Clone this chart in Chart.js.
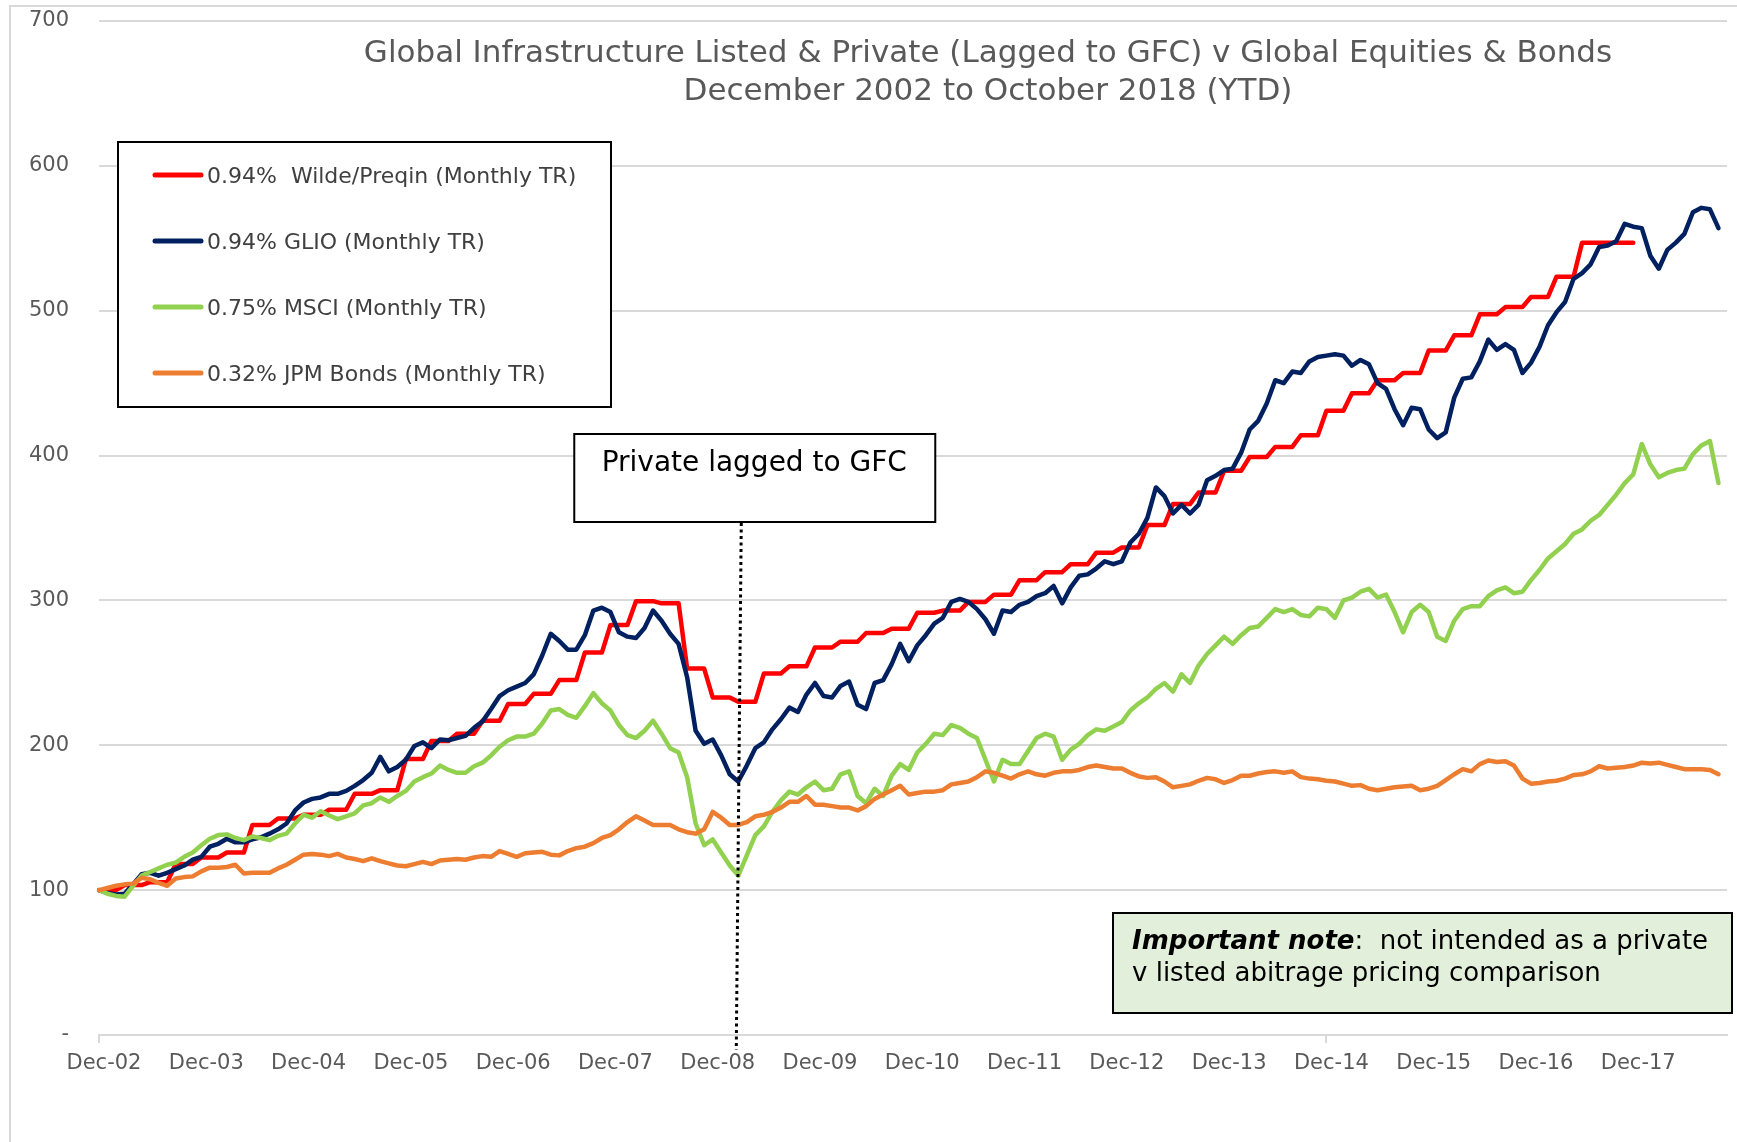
<!DOCTYPE html>
<html>
<head>
<meta charset="utf-8">
<title>Global Infrastructure Listed & Private v Global Equities & Bonds</title>
<script src="https://cdn.jsdelivr.net/npm/chart.js@4.4.0/dist/chart.umd.min.js"></script>
<style>
  html, body { margin: 0; padding: 0; background: #fff; }
  #wrap { position: relative; width: 1737px; height: 1142px; }
</style>
</head>
<body>
<div id="wrap"><canvas id="myChart" width="1737" height="1142"></canvas></div>
<script>
// tick labels shown under the x axis (one per December)
const tickLabels = ['Dec-02','Dec-03','Dec-04','Dec-05','Dec-06','Dec-07','Dec-08','Dec-09',
                    'Dec-10','Dec-11','Dec-12','Dec-13','Dec-14','Dec-15','Dec-16','Dec-17']
const monthNames = ['Jan','Feb','Mar','Apr','May','Jun','Jul','Aug','Sep','Oct','Nov','Dec']

// monthly categories Dec-02 .. Nov-18 (last one is the empty end of the axis)
const months = []
for (let i = 0; i < 192; i++) {
  const m = (11 + i) % 12
  const yr = 2 + Math.floor((11 + i) / 12)
  months.push(monthNames[m] + '-' + (yr < 10 ? '0' + yr : '' + yr))
}

const seriesNames = ['0.94%  Wilde/Preqin (Monthly TR)', '0.94% GLIO (Monthly TR)',
                     '0.75% MSCI (Monthly TR)', '0.32% JPM Bonds (Monthly TR)']
const seriesColors = ['#ff0000', '#002060', '#92d050', '#ed7d31']

// Wilde/Preqin private infrastructure (quarterly, held for 3 months)
const wilde = [
  100, 100, 100,   103.5, 103.5, 103.5,   105.5, 105.5, 105.5,   118, 118, 118,
  122.5, 122.5, 122.5,   126, 126, 126,   145, 145, 145,   149.5, 149.5, 149.5,
  152, 152, 152,   155.5, 155.5, 155.5,   166.5, 166.5, 166.5,   169, 169, 169,
  190.5, 190.5, 190.5,   203, 203, 203,   208, 208, 208,   217, 217, 217,
  228.5, 228.5, 228.5,   235.5, 235.5, 235.5,   245, 245, 245,   264, 264, 264,
  283, 283, 283,   299.5, 299.5, 299.5,   298, 298, 298,   253, 253, 253,
  233, 233, 233,   230, 230, 230,   249.5, 249.5, 249.5,   254.5, 254.5, 254.5,
  267.5, 267.5, 267.5,   271.5, 271.5, 271.5,   277.5, 277.5, 277.5,   280.5, 280.5, 280.5,
  291.5, 291.5, 291.5,   293, 293, 293,   299, 299, 299,   304, 304, 304,
  314, 314, 314,   319.5, 319.5, 319.5,   325, 325, 325,   333, 333, 333,
  336.5, 336.5, 336.5,   352, 352, 352,   366.5, 366.5, 366.5,   374.5, 374.5, 374.5,
  389.5, 389.5, 389.5,   399, 399, 399,   406, 406, 406,   414, 414, 414,
  431, 431, 431,   443, 443, 443,   452, 452, 452,   457, 457, 457,
  472.5, 472.5, 472.5,   483, 483, 483,   497.5, 497.5, 497.5,   502.5, 502.5, 502.5,
  509.5, 509.5, 509.5,   523.5, 523.5, 523.5,   547, 547, 547,   547, 547, 547,
  547
]

// GLIO listed infrastructure
const glio = [
  100, 98, 97, 97.5, 104, 111, 112, 110, 112, 114.5, 117, 121,
  123, 130, 132, 135.5, 133, 133, 135, 136.5, 139, 142, 146, 155,
  160.5, 163, 164, 166.5, 166.5, 168.5, 172, 176, 181, 192, 182, 185,
  190, 199.5, 202, 198, 204, 203.5, 205, 206.5, 212, 216.5, 225, 234,
  238, 240.5, 243, 249, 262, 277, 272, 266, 266, 276, 293, 295,
  292, 278, 275, 274, 281, 293, 286, 277, 270, 247, 210, 201,
  204, 193, 180, 175, 186, 198, 202, 211, 218, 226, 223, 235,
  243, 234, 233, 241, 244, 228, 225, 243, 245, 256, 270, 258,
  269, 276, 284, 288, 299, 301, 299, 294, 287, 277, 293, 292,
  297, 299, 303, 305, 310, 298, 309, 317, 318, 322, 327, 325,
  327, 340, 346, 357, 378, 372, 360, 366, 360, 366, 383, 386,
  390, 391, 402, 418, 424, 436, 452, 450, 458, 457, 465, 468,
  469, 470, 469, 462, 466, 463, 450, 446, 432, 421, 433, 432,
  418, 412, 416, 440, 453, 454, 465, 480, 473, 477, 473, 457,
  464, 475, 490, 499, 506, 522, 526, 532, 544, 545, 548, 560,
  558, 557, 538, 529, 542, 547, 553, 568, 571, 570, 557
]

// MSCI global equities
const msci = [
  100, 97.5, 96, 95.5, 103, 110, 112.5, 115, 117.5, 119, 123, 126,
  131, 135.5, 138, 138.5, 136, 134.5, 137, 136, 134.5, 137.5, 139, 146,
  152, 150, 154.5, 151.5, 149, 151, 153, 158.5, 160, 164, 161, 165,
  168.5, 175, 178, 180.5, 186, 183, 181, 181, 185.5, 188, 193, 199,
  203.5, 206, 206, 208, 215, 224, 225, 221, 219, 227, 236, 229,
  224, 214, 207, 205, 210, 217, 208, 198, 195, 178, 146, 131,
  135, 126, 117, 110, 124, 138, 144, 154, 162, 168, 166, 171,
  175, 169, 170, 180, 182, 165, 160, 170, 165, 179, 187, 183,
  195, 201, 208, 207, 214, 212, 208, 205, 190, 175, 190, 187,
  187, 196, 205, 208, 206, 190, 197, 201, 207, 211, 210, 213,
  216, 224, 229, 233, 239, 243, 237, 249, 243, 255, 263, 269,
  275, 270, 276, 281, 282, 288, 294, 292, 294, 290, 289, 295,
  294, 288, 300, 302, 306, 308, 302, 304, 292, 278, 292, 297,
  292, 275, 272, 286, 294, 296, 296, 303, 307, 309, 305, 306,
  314, 321, 329, 334, 339, 346, 349, 355, 359, 366, 373, 381,
  387, 408, 394, 385, 388, 390, 391, 401, 407, 410, 381
]

// JPM global bonds
const jpm = [
  100, 101.5, 103, 104, 104.5, 108.5, 107.5, 105, 103, 108, 109, 109.5,
  113, 115.5, 115.5, 116, 117.5, 111.5, 112, 112, 112, 115, 117.5, 121,
  124.5, 125, 124.5, 123.5, 125, 122.5, 121.5, 120, 122, 120, 118.5, 117,
  116.5, 118, 119.5, 118, 120.5, 121, 121.5, 121, 122.5, 123.5, 123, 127,
  125, 123, 125.5, 126, 126.5, 124.5, 124, 127, 129, 130, 132.5, 136,
  138, 142, 147, 151, 148, 145, 145, 145, 142, 140, 139, 142,
  154, 150, 145, 145, 147, 151, 152, 154, 157, 161, 161, 165,
  159, 159, 158, 157, 157, 155, 158, 163, 166, 169, 172, 166,
  167, 168, 168, 169, 173, 174, 175, 178, 182, 181, 179, 177,
  180, 182, 180, 179, 181, 182, 182, 183, 185, 186, 185, 184,
  184, 181, 178.5, 177.5, 178, 175, 171, 172, 173, 175.5, 177.5, 176.5,
  174, 176, 179, 179, 180.5, 181.5, 182, 181, 182, 178, 177, 176.5,
  175.5, 175, 173.5, 172, 172.5, 170, 169, 170, 171, 171.5, 172, 169,
  170, 172, 176, 180, 183.5, 182, 187, 189.5, 188.5, 189, 186, 177,
  173.5, 174, 175, 175.5, 177, 179.5, 180, 182, 185.5, 184, 184.5, 185,
  186, 188, 187.5, 188, 186.5, 185, 183.5, 183.5, 183.5, 183, 180
]

const titleLines = ['Global Infrastructure Listed & Private (Lagged to GFC) v Global Equities & Bonds',
                    'December 2002 to October 2018 (YTD)']
const gfcLabel = 'Private lagged to GFC'
const gfcMonth = 75   // Mar-09
const noteBold = 'Important note'
const noteLines = [':  not intended as a private', 'v listed abitrage pricing comparison']

const FONT = '"DejaVu Sans", Verdana, sans-serif'

// draws frame, title, legend box and the two annotation boxes
const extras = {
  id: 'extras',
  beforeDraw(chart) {
    const ctx = chart.ctx
    ctx.save()
    ctx.fillStyle = '#ffffff'
    ctx.fillRect(0, 0, chart.width, chart.height)
    ctx.strokeStyle = '#d9d9d9'
    ctx.lineWidth = 2
    ctx.beginPath()
    ctx.moveTo(10, chart.height)
    ctx.lineTo(10, 6)
    ctx.lineTo(chart.width, 6)
    ctx.stroke()
    ctx.restore()
  },
  afterDraw(chart) {
    const ctx = chart.ctx
    const xs = chart.scales.x
    ctx.save()

    // title
    ctx.fillStyle = '#595959'
    ctx.font = '31px ' + FONT
    ctx.textAlign = 'center'
    ctx.textBaseline = 'alphabetic'
    ctx.fillText(titleLines[0], 988, 62)
    ctx.fillText(titleLines[1], 988, 100)

    // legend
    ctx.fillStyle = '#ffffff'
    ctx.fillRect(118, 142, 493, 265)
    ctx.strokeStyle = '#000000'
    ctx.lineWidth = 2
    ctx.strokeRect(118, 142, 493, 265)
    ctx.textAlign = 'left'
    ctx.font = '22px ' + FONT
    chart.data.datasets.forEach((ds, i) => {
      const cy = 175 + i * 66
      ctx.strokeStyle = ds.borderColor
      ctx.lineWidth = 5
      ctx.lineCap = 'round'
      ctx.beginPath()
      ctx.moveTo(155, cy)
      ctx.lineTo(201, cy)
      ctx.stroke()
      ctx.fillStyle = '#404040'
      ctx.fillText(ds.label, 207, cy + 8)
    })

    // GFC marker: dotted line + label box
    const gx = xs.getPixelForValue(gfcMonth)
    ctx.strokeStyle = '#000000'
    ctx.lineWidth = 3
    ctx.lineCap = 'butt'
    ctx.setLineDash([3, 3.5])
    ctx.beginPath()
    ctx.moveTo(gx + 3, 523)
    ctx.lineTo(gx - 2, 1050)
    ctx.stroke()
    ctx.setLineDash([])
    ctx.fillStyle = '#ffffff'
    ctx.fillRect(gx - 164, 434, 361, 88)
    ctx.lineWidth = 2
    ctx.strokeRect(gx - 164, 434, 361, 88)
    ctx.fillStyle = '#000000'
    ctx.font = '28px ' + FONT
    ctx.textAlign = 'center'
    ctx.fillText(gfcLabel, gx + 16, 471)

    // note box
    ctx.fillStyle = '#e2efda'
    ctx.fillRect(1113, 913, 619, 100)
    ctx.strokeStyle = '#000000'
    ctx.lineWidth = 2
    ctx.strokeRect(1113, 913, 619, 100)
    ctx.fillStyle = '#000000'
    ctx.textAlign = 'left'
    ctx.font = 'italic bold 26px ' + FONT
    ctx.fillText(noteBold, 1132, 949)
    const w = ctx.measureText(noteBold).width
    ctx.font = '26px ' + FONT
    ctx.fillText(noteLines[0], 1132 + w, 949)
    ctx.fillText(noteLines[1], 1132, 981)

    ctx.restore()
  }
}

const allSeries = [wilde, glio, msci, jpm]
const ctx = document.getElementById('myChart').getContext('2d')
const myChart = new Chart(ctx, {
  type: 'line',
  data: {
    labels: months,
    datasets: allSeries.map((d, i) => ({
      label: seriesNames[i],
      data: d,
      borderColor: seriesColors[i],
      backgroundColor: seriesColors[i],
      borderWidth: 4.5,
      pointRadius: 0,
      tension: 0,
      borderJoinStyle: 'round',
      borderCapStyle: 'round',
      fill: false,
      order: 4 - i   // later series drawn on top, like the original
    }))
  },
  options: {
    responsive: false,
    animation: false,
    devicePixelRatio: 1,
    layout: { padding: { top: 21, right: 10, bottom: 0, left: 0 } },
    plugins: {
      legend: { display: false },
      tooltip: { enabled: false },
      title: { display: false }
    },
    scales: {
      x: {
        type: 'category',
        offset: false,
        afterFit: (s) => { s.height = 107 },
        grid: {
          drawOnChartArea: false,
          drawTicks: true,
          tickLength: 8,
          lineWidth: 2,
          color: (c) => (c.index % 12 === 0 && c.index < 190) ? '#d9d9d9' : 'rgba(0,0,0,0)'
        },
        border: { display: true, color: '#d9d9d9', width: 2 },
        ticks: {
          autoSkip: false,
          maxRotation: 0,
          minRotation: 0,
          padding: 8,
          labelOffset: 5,
          color: '#595959',
          font: { family: FONT, size: 21 },
          callback: (val, idx) => (idx % 12 === 0 && idx / 12 < tickLabels.length) ? tickLabels[idx / 12] : null
        }
      },
      y: {
        min: 0,
        max: 700,
        // the 30px label padding would otherwise also push the plot top down
        afterFit: (s) => { s.width = 99; s.paddingTop = 10; s.paddingBottom = 10 },
        grid: { color: '#d9d9d9', lineWidth: 2, drawTicks: false },
        border: { display: false },
        ticks: {
          stepSize: 100,
          padding: 30,
          color: '#595959',
          font: { family: FONT, size: 21 },
          callback: (v) => v === 0 ? '-' : v
        }
      }
    }
  },
  plugins: [extras]
})
</script>
</body>
</html>
